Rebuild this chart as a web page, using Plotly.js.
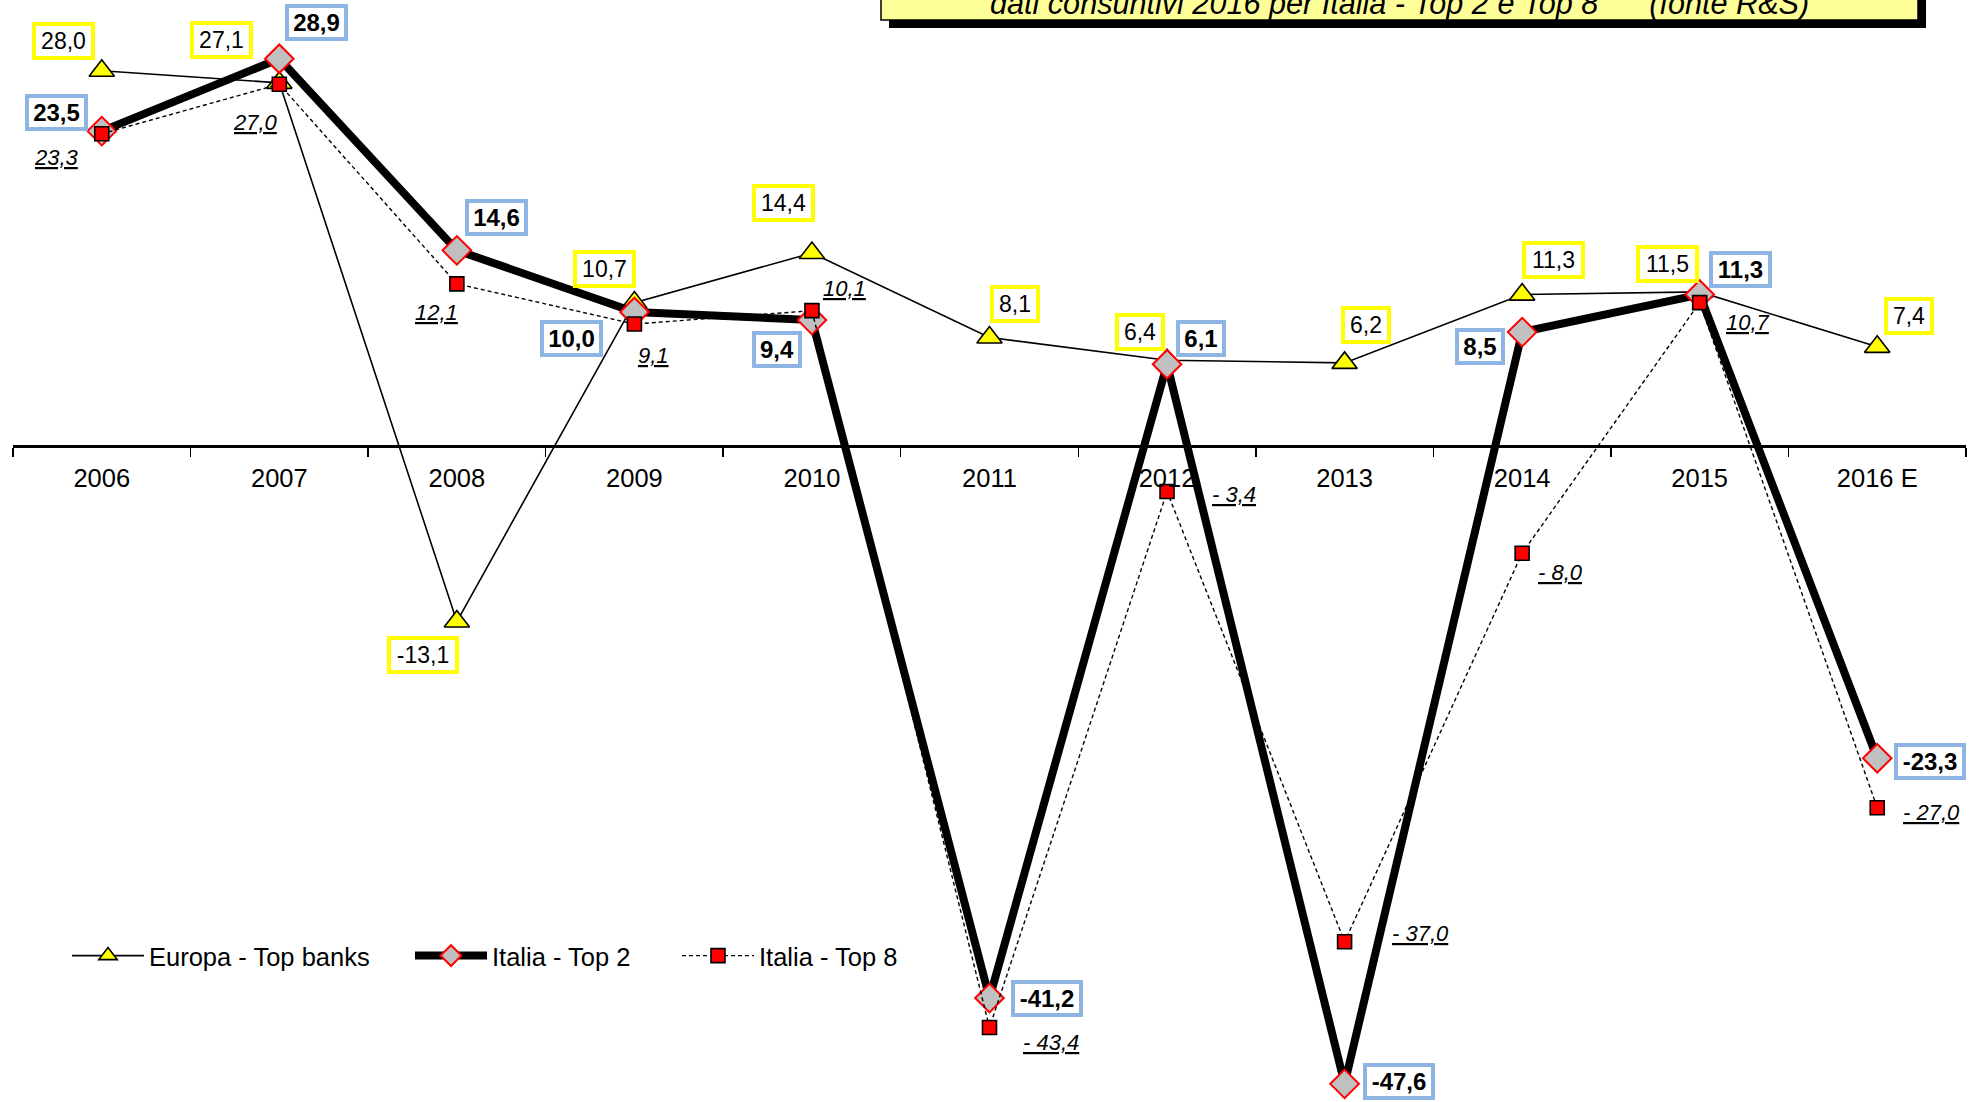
<!DOCTYPE html>
<html>
<head>
<meta charset="utf-8">
<script src="https://cdn.plot.ly/plotly-3.0.1.min.js"></script>
<style>html,body{margin:0;padding:0;background:#fff;}#chart{width:1980px;height:1102px;}</style>
</head>
<body>
<div id="chart"></div>
<script>
// ---- data ----
const categories = ['2006', '2007', '2008', '2009', '2010', '2011', '2012', '2013', '2014', '2015', '2016 E'];
const europa = [28.0, 27.1, -13.1, 10.7, 14.4, 8.1, 6.4, 6.2, 11.3, 11.5, 7.4];
const italiaTop2 = [23.5, 28.9, 14.6, 10.0, 9.4, -41.2, 6.1, -47.6, 8.5, 11.3, -23.3];
const italiaTop8 = [23.3, 27.0, 12.1, 9.1, 10.1, -43.4, -3.4, -37.0, -8.0, 10.7, -27.0];
const seriesNames = ['Europa - Top banks', 'Italia - Top 2', 'Italia - Top 8'];
const titleText = 'dati consuntivi 2016 per Italia - Top 2 e Top 8\u00A0\u00A0\u00A0\u00A0\u00A0\u00A0(fonte R&S)';

// ---- label placement (pixel offsets from each point, dy positive = down) ----
const offEuropa = [[-38,-30],[-58,-43],[-34,33],[-30,-34],[-28,-50],[25,-33],[-27,-28],[21,-38],[31,-35],[-32,-28],[32,-31]];
const offTop2 = [[-45,-19],[37,-36],[40,-33],[-63,26],[-35,29],[57,0],[34,-26],[54,-2],[-42,14],[41,-25],[53,3]];
const offTop8 = [[-45,24],[-24,38],[-20,29],[19,31],[33,-22],[61,15],[67,3],[76,-8],[38,19],[48,20],[54,5]];

// ---- geometry / style ----
const W = 1980, H = 1102;
const M = {l: 13, r: 14, t: 0, b: 0};
const FONT = 'Liberation Sans, Arial, Helvetica, sans-serif';
const zeroPx = 446;             // pixel row of the value 0
const pxPerUnit = 13.4;
const yTop = zeroPx / pxPerUnit;
const yBot = -(H - zeroPx) / pxPerUnit;

const fmt = v => v.toFixed(1).replace('.', ',');
const fmtTop8 = v => (v < 0 ? '- ' + Math.abs(v).toFixed(1) : v.toFixed(1)).replace('.', ',');
const boxWidth = t => (t.length <= 3 ? 40 : t.length === 4 ? 53 : 62);

const traces = [
  {
    x: categories, y: europa, name: seriesNames[0], type: 'scatter', mode: 'lines+markers',
    line: {color: '#000000', width: 1.6},
    marker: {symbol: 'triangle-up', size: 22, color: '#FFFF00', line: {color: '#000000', width: 1.6}},
    cliponaxis: false, legend: 'legend'
  },
  {
    x: categories, y: italiaTop2, name: seriesNames[1], type: 'scatter', mode: 'lines+markers',
    line: {color: '#000000', width: 8},
    marker: {symbol: 'diamond', size: 22, color: '#C0C0C0', line: {color: '#FF0000', width: 2}},
    cliponaxis: false, legend: 'legend2'
  },
  {
    x: categories, y: italiaTop8, name: seriesNames[2], type: 'scatter', mode: 'lines+markers',
    line: {color: '#000000', width: 1.4, dash: '4px,3px'},
    marker: {symbol: 'square', size: 14, color: '#FF0000', line: {color: '#000000', width: 1.6}},
    cliponaxis: false, legend: 'legend3'
  }
];

const annotations = [];
europa.forEach((v, i) => {
  const t = fmt(v);
  annotations.push({
    x: i, y: v, xref: 'x', yref: 'y', showarrow: false,
    xshift: offEuropa[i][0], yshift: -offEuropa[i][1],
    text: t, font: {family: FONT, size: 23, color: '#000'},
    bgcolor: '#FFFFFF', bordercolor: '#FFFF00', borderwidth: 4, borderpad: 1,
    width: boxWidth(t), height: 28, align: 'center', valign: 'middle'
  });
});
italiaTop2.forEach((v, i) => {
  const t = fmt(v);
  annotations.push({
    x: i, y: v, xref: 'x', yref: 'y', showarrow: false,
    xshift: offTop2[i][0], yshift: -offTop2[i][1],
    text: '<b>' + t + '</b>', font: {family: FONT, size: 24, color: '#000'},
    bgcolor: '#FFFFFF', bordercolor: '#8DB4E2', borderwidth: 4, borderpad: 1,
    width: boxWidth(t), height: 27, align: 'center', valign: 'middle'
  });
});
italiaTop8.forEach((v, i) => {
  annotations.push({
    x: i, y: v, xref: 'x', yref: 'y', showarrow: false,
    xshift: offTop8[i][0], yshift: -offTop8[i][1],
    text: '<i><u>' + fmtTop8(v) + '</u></i>', font: {family: FONT, size: 22, color: '#000'}
  });
});

// title text (box drawn with shapes; the chart top crops it, as in the original)
const plotW = W - M.l - M.r;
const px2paperX = px => (px - M.l) / plotW;
const px2paperY = py => 1 - py / H;
annotations.push({
  xref: 'paper', yref: 'paper', x: px2paperX(1399), y: 1, xanchor: 'center', yanchor: 'bottom',
  yshift: -21, showarrow: false, borderpad: 0, borderwidth: 0,
  text: '<i>' + titleText + '</i>', font: {family: FONT, size: 30.6, color: '#000'}
});

const shapes = [
  {type: 'rect', xref: 'paper', yref: 'paper', layer: 'above',
   x0: px2paperX(889), x1: px2paperX(1926), y0: px2paperY(28), y1: 1.1,
   fillcolor: '#000000', line: {width: 0}},
  {type: 'rect', xref: 'paper', yref: 'paper', layer: 'above',
   x0: px2paperX(881), x1: px2paperX(1918), y0: px2paperY(20), y1: 1.1,
   fillcolor: '#FFFF99', line: {color: '#000000', width: 1.5}}
];

const legendBase = {
  orientation: 'h', xanchor: 'left', yanchor: 'middle', y: px2paperY(956),
  bgcolor: 'rgba(0,0,0,0)', font: {family: FONT, size: 25.5, color: '#000'},
  itemwidth: 72
};

const layout = {
  width: W, height: H,
  margin: M,
  paper_bgcolor: '#FFFFFF', plot_bgcolor: '#FFFFFF',
  font: {family: FONT, size: 24, color: '#000'},
  showlegend: true,
  legend: Object.assign({}, legendBase, {x: px2paperX(67)}),
  legend2: Object.assign({}, legendBase, {x: px2paperX(410)}),
  legend3: Object.assign({}, legendBase, {x: px2paperX(677)}),
  xaxis: {
    type: 'category', categoryorder: 'array', categoryarray: categories,
    range: [-0.5, categories.length - 0.5],
    anchor: 'free', position: px2paperY(zeroPx),
    showline: true, linecolor: '#000000', linewidth: 3,
    ticks: 'outside', tickson: 'boundaries', ticklen: 9, tickwidth: 1.5, tickcolor: '#000000',
    ticklabelstandoff: 8,
    showgrid: false, zeroline: false, automargin: false,
    tickfont: {family: FONT, size: 25.5, color: '#000'}
  },
  yaxis: {
    range: [yBot, yTop], visible: false, showgrid: false, zeroline: false, fixedrange: true
  },
  annotations: annotations,
  shapes: shapes
};

Plotly.newPlot('chart', traces, layout, {staticPlot: true, displayModeBar: false});
</script>
</body>
</html>
